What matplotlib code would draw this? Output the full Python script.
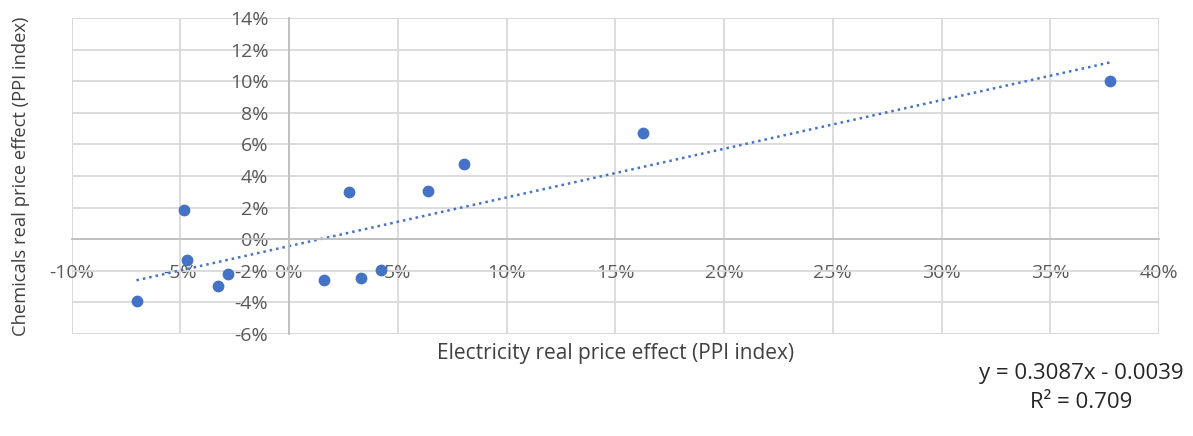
import numpy as np
import matplotlib
matplotlib.use("Agg")
import matplotlib.pyplot as plt
from matplotlib.ticker import PercentFormatter
from matplotlib.patches import Rectangle

# electricity vs chemicals real price effect (fractions)
eletricidade = [-0.0702, -0.0484, -0.0470, -0.0327, -0.0283, 0.0162, 0.0274,
                0.0329, 0.0421, 0.0638, 0.0805, 0.1627, 0.3774]
quimicos = [-0.0391, 0.0185, -0.0132, -0.0298, -0.0220, -0.0258, 0.0301,
            -0.0243, -0.0195, 0.0307, 0.0478, 0.0672, 0.1003]
xticks = np.arange(-0.10, 0.401, 0.05)
yticks = np.arange(-0.06, 0.141, 0.02)
equacao = "y = 0.3087x - 0.0039"
r2 = "R\u00b2 = 0.709"

azul = "#4472C4"
cinza_txt = "#595959"
plt.rcParams['font.family'] = ['Open Sans', 'DejaVu Sans']
plt.rcParams['axes.unicode_minus'] = False

fig = plt.figure(figsize=(11.93, 4.36), dpi=100)
ax = fig.add_axes([0.0601, 0.2339, 0.9114, 0.7248])

ax.set_xlim(-0.10, 0.40)
ax.set_ylim(-0.06, 0.14)
ax.set_xticks(xticks)
ax.set_yticks(yticks)
ax.xaxis.set_major_formatter(PercentFormatter(1.0, decimals=0))
ax.yaxis.set_major_formatter(PercentFormatter(1.0, decimals=0))
ax.grid(True, color="#d9d9d9", lw=1.3, zorder=0)

# axes crossing at zero, Excel style
ax.spines['left'].set_position(('data', 0))
ax.spines['bottom'].set_position(('data', 0))
ax.spines['left'].set_color("#bfbfbf")
ax.spines['bottom'].set_color("#bfbfbf")
ax.spines['left'].set_linewidth(1.3)
ax.spines['bottom'].set_linewidth(1.3)
ax.spines['top'].set_visible(False)
ax.spines['right'].set_visible(False)
ax.add_patch(Rectangle((0, 0), 1, 1, transform=ax.transAxes, fill=False,
                       edgecolor="#d9d9d9", lw=1.3, zorder=0.5))

ax.tick_params(axis='x', length=0, pad=18, labelsize=14, labelcolor=cinza_txt)
ax.tick_params(axis='y', length=0, pad=15, labelsize=14, labelcolor=cinza_txt)

ax.scatter(eletricidade, quimicos, s=72, color=azul, zorder=3, linewidths=0)

# linear trendline over the data range
coef = np.polyfit(eletricidade, quimicos, 1)
xs = np.array([min(eletricidade), max(eletricidade)])
ax.plot(xs, np.polyval(coef, xs), color=azul, lw=1.8, linestyle=(0, (1, 1.6)), zorder=2)

ax.set_xlabel("Electricity real price effect (PPI index)", fontsize=15, color="#404040")
ax.xaxis.set_label_coords(0.5, -0.03)
ax.set_ylabel("Chemicals real price effect (PPI index)", fontsize=13.2, color="#404040")
ax.yaxis.set_label_coords(-0.038, 0.5)

fig.text(0.906, 0.144, equacao, ha='center', va='center', fontsize=16, color="#262626")
fig.text(0.906, 0.076, r2, ha='center', va='center', fontsize=16, color="#262626")

fig.savefig("out.png", dpi=100)
